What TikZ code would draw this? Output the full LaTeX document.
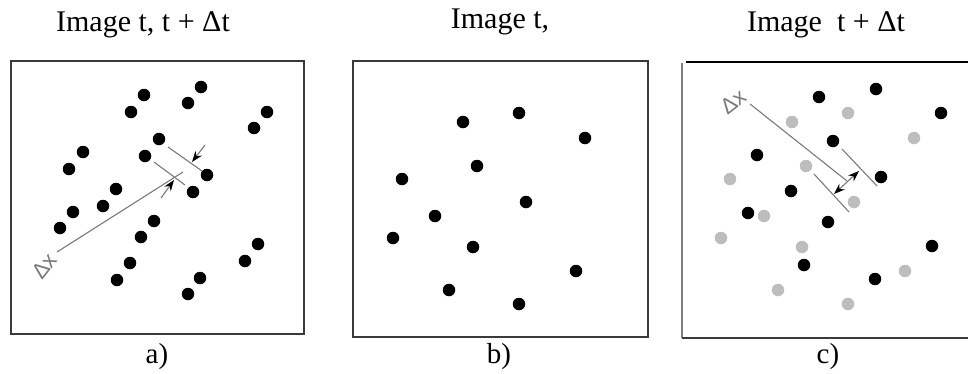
\documentclass[tikz,border=0pt]{standalone}
\usepackage{fontspec}
\setmainfont{Liberation Serif}
\newfontfamily\lblfont{Liberation Sans}
\usetikzlibrary{arrows.meta}
\definecolor{frame}{HTML}{3A3A3A}
\definecolor{lgray}{HTML}{BDBDBD}
\definecolor{lineg}{HTML}{7A7A7A}
\tikzset{
  blk/.style={circle,fill=black,inner sep=0pt,minimum size=12.5pt},
  gry/.style={circle,fill=lgray,inner sep=0pt,minimum size=12.5pt},
  framel/.style={draw=frame,line width=1.6pt},
  guide/.style={draw=lineg,line width=1.1pt},
  tipk/.tip={Stealth[length=11pt,width=8pt,black]},
  dimarrow/.style={draw=lineg,line width=1.1pt,-tipk},
  title/.style={font=\fontsize{30}{33}\selectfont,anchor=base,inner sep=0pt},
  sub/.style={font=\fontsize{29}{32}\selectfont,anchor=base,inner sep=0pt},
  dxlbl/.style={font=\lblfont\fontsize{22}{24}\selectfont,text=lineg,inner sep=0pt}
}
\begin{document}
\begin{tikzpicture}[x=1pt,y=-1pt]
\useasboundingbox (0,0) rectangle (968,373);
% titles
\node[title] (ta) at (143,31) {Image t, t + Δt};
\node[title] (tb) at (500,28) {Image t,};
\node[title] (tc) at (826,31) {Image\ \ t + Δt};
\node[sub] (la) at (157,363) {a)};
\node[sub] (lb) at (499,363) {b)};
\node[sub] (lc) at (828,363) {c)};
% frames
\draw[framel] (11,61) rectangle (304,334);
\draw[framel] (353,61) rectangle (648,337);
\draw[framel,draw=black] (686,62) -- (968,62);
\draw[framel,draw=gray] (682,63) -- (682,338);
\draw[framel] (682,338) -- (968,338);
% panel a dots
\foreach \x/\y [count=\i] in {144/95,131/112,201/87,188/103,267/112,254/128,159/139,145/156,207/175,193/192,83/152,69/169,116/189,103/206,73/212,60/228,154/221,141/237,130/263,117/280,200/278,188/294,258/244,245/261}
  \node[blk] (a\i) at (\x,\y) {};
% panel a lines
\coordinate (aL0) at (57,252);
\coordinate (aL1) at (183,172);
\draw[guide] (aL0) -- (aL1);
\coordinate (aS0) at (154,162);
\coordinate (aS1) at (185,185);
\draw[guide] (aS0) -- (aS1);
\coordinate (aT0) at (168,147);
\coordinate (aT1) at (202,171);
\draw[guide] (aT0) -- (aT1);
\coordinate (aA0) at (161,198);
\coordinate (aA1) at (174,180);
\draw[dimarrow] (aA0) -- (aA1);
\coordinate (aB0) at (205,145);
\coordinate (aB1) at (192,162);
\draw[dimarrow] (aB0) -- (aB1);
\node[dxlbl,rotate=52] (dxa) at (44,266) {Δx};
% panel b dots
\foreach \x/\y [count=\i] in {463/122,519/113,585/138,477/166,402/179,526/202,435/216,393/238,473/247,576/271,449/290,519/304}
  \node[blk] (b\i) at (\x,\y) {};
% panel c dots
\foreach \x/\y [count=\i] in {848/113,792/122,914/138,806/166,730/179,854/202,764/216,721/238,802/247,905/271,778/290,848/304}
  \node[gry] (g\i) at (\x,\y) {};
\foreach \x/\y [count=\i] in {819/97,876/89,941/113,833/141,757/155,881/177,791/191,748/213,828/222,932/246,804/265,875/279}
  \node[blk] (c\i) at (\x,\y) {};
% panel c lines
\coordinate (cL0) at (750,104);
\coordinate (cL1) at (847,181);
\draw[guide] (cL0) -- (cL1);
\coordinate (cS0) at (842,149);
\coordinate (cS1) at (877,186);
\draw[guide] (cS0) -- (cS1);
\coordinate (cT0) at (814,174);
\coordinate (cT1) at (849,212);
\draw[guide] (cT0) -- (cT1);
\coordinate (cA0) at (834,194);
\coordinate (cA1) at (859,171);
\draw[guide,tipk-tipk] (cA0) -- (cA1);
\node[dxlbl,rotate=38] (dxc) at (733,102) {Δx};
\end{tikzpicture}
\end{document}
